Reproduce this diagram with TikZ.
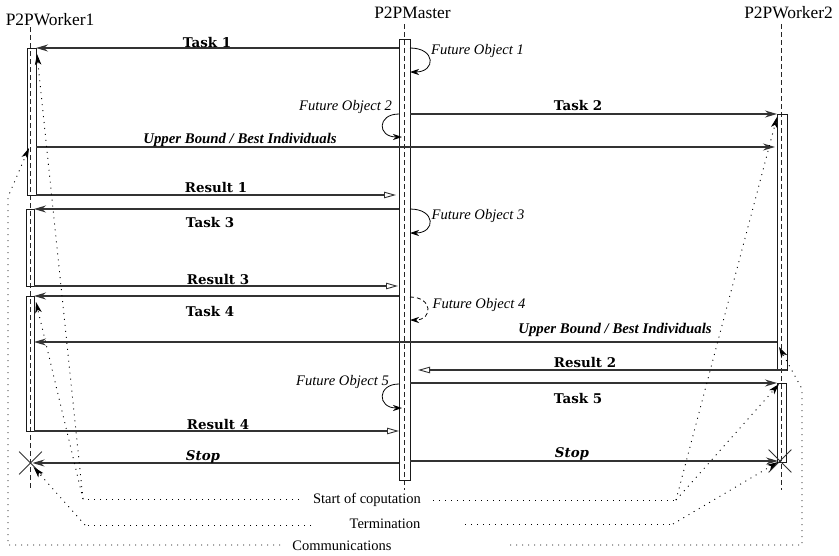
\documentclass[tikz,border=0pt]{standalone}
\usepackage{fontspec}
\setmainfont{Liberation Serif}
\newfontfamily\slabfont{DejaVu Serif}
\usetikzlibrary{arrows.meta,shapes.misc}

\tikzset{
  lifeline/.style={draw=black!85, line width=0.8pt, dash pattern=on 5pt off 3pt},
  actbox/.style={draw=black!90, line width=0.9pt, inner sep=0pt, outer sep=0pt, rectangle},
  msg/.style={draw=black!80, line width=1.2pt, -{Stealth[length=12pt,width=7pt,inset=4pt]}},
  reply/.style={draw=black!80, line width=1.2pt, -{Triangle[open,length=12pt,width=6.5pt,line width=0.9pt]}},
  selfcall/.style={draw=black, line width=0.8pt, -{Stealth[length=9pt,width=6pt,inset=3pt]}},
  note/.style={draw=black, line width=0.9pt, dash pattern=on 1pt off 5pt, -{Stealth[length=11pt,width=6.5pt,inset=3pt]}},
  plainnote/.style={draw=black, line width=0.9pt, dash pattern=on 1pt off 5pt},
  endmark/.style={draw=black!80, line width=0.8pt, cross out, minimum size=22pt, inner sep=0pt},
  lifelbl/.style={font=\fontsize{17.4}{20}\selectfont, anchor=base, inner sep=0pt},
  msglbl/.style={font=\slabfont\bfseries\fontsize{13.4}{16}\selectfont, anchor=base, inner sep=0pt},
  stoplbl/.style={font=\slabfont\bfseries\itshape\fontsize{13.4}{16}\selectfont, anchor=base, inner sep=0pt},
  ublbl/.style={font=\bfseries\itshape\fontsize{14.8}{17}\selectfont, anchor=base, inner sep=0pt},
  futlbl/.style={font=\itshape\fontsize{14.6}{17}\selectfont, anchor=base, inner sep=0pt},
  notelbl/.style={font=\fontsize{14.5}{17}\selectfont, anchor=base, inner sep=0pt}
}

\begin{document}
\begin{tikzpicture}[x=1pt,y=-1pt]
\useasboundingbox (0,0) rectangle (839,555);

% participants
\node[lifelbl] (w1lbl) at (50,25) {P2PWorker1};
\node[lifelbl] (mlbl) at (412.5,18) {P2PMaster};
\node[lifelbl] (w2lbl) at (788.5,18) {P2PWorker2};

% lifelines
\coordinate (w1top) at (30.5,27);  \coordinate (w1bot) at (30.5,490);
\coordinate (mtop)  at (404.5,24); \coordinate (mbot)  at (404.5,490);
\coordinate (w2top) at (781.5,24); \coordinate (w2bot) at (781.5,490);
\draw[lifeline] (w1top) -- (w1bot);
\draw[lifeline] (mtop) -- (mbot);
\draw[lifeline] (w2top) -- (w2bot);

% activation bars
\node[actbox, minimum width=11pt, minimum height=441pt] (mbox) at (404.5,259.5) {};
\node[actbox, minimum width=9pt, minimum height=147pt] (a1) at (31.5,121.5) {};
\node[actbox, minimum width=8pt, minimum height=77pt]  (a2) at (30,247.5) {};
\node[actbox, minimum width=8pt, minimum height=135pt] (a3) at (30,363.5) {};
\node[actbox, minimum width=10pt, minimum height=256pt] (b1) at (782,242) {};
\node[actbox, minimum width=9pt, minimum height=79pt]  (b2) at (781.5,422.5) {};

% end of the workers
\node[endmark] (x1) at (30.5,463) {};
\node[endmark] (x2) at (780,461) {};

% messages
\draw[msg]   (mbox.west |- a1.north) -- (a1.north east);
\draw[msg]   (mbox.east |- b1.north) -- (b1.north west);
\draw[msg]   (a1.east |- 0,147) -- ([xshift=-2pt]b1.west |- 0,147);
\draw[reply, shorten >=3pt] (a1.south east) -- (mbox.west |- a1.south);
\draw[msg]   (mbox.west |- a2.north) -- (a2.north east);
\draw[reply, shorten >=1pt] (a2.south east) -- (mbox.west |- a2.south);
\draw[msg]   (mbox.west |- a3.north) -- (a3.north east);
\draw[msg]   (b1.west |- 0,342) -- (a3.east |- 0,342);
\draw[reply, shorten >=8pt] (b1.south east) -- (mbox.east |- b1.south);
\draw[msg]   (mbox.east |- b2.north) -- (b2.north west);
\draw[reply] (a3.south east) -- (mbox.west |- a3.south);
\draw[msg, shorten >=2pt] (mbox.west |- x1) -- (x1.center);
\draw[msg, shorten >=2pt] (mbox.east |- x2) -- (x2.center);

% future objects created by the master
\draw[selfcall] (mbox.east |- 0,48) .. controls +(26,0) and +(26,0) .. (mbox.east |- 0,72);
\draw[selfcall] (mbox.west |- 0,114) .. controls +(-22,0) and +(-25,0) .. ([xshift=3pt]mbox.west |- 0,137);
\draw[selfcall] (mbox.east |- 0,209) .. controls +(26,0) and +(26,0) .. (mbox.east |- 0,233);
\draw[selfcall, dash pattern=on 4pt off 3pt] (mbox.east |- 0,297) .. controls +(23,0) and +(23,0) .. (mbox.east |- 0,320);
\draw[selfcall] (mbox.west |- 0,384) .. controls +(-22,0) and +(-25,0) .. ([xshift=3pt]mbox.west |- 0,408);

% message labels
\node[msglbl] (lt1) at (207,47) {Task 1};
\node[msglbl] (lt2) at (578,110.5) {Task 2};
\node[ublbl]  (lub1) at (240,143) {Upper Bound / Best Individuals};
\node[msglbl] (lr1) at (216,192) {Result 1};
\node[msglbl] (lt3) at (210,227) {Task 3};
\node[msglbl] (lr3) at (218,284) {Result 3};
\node[msglbl] (lt4) at (210,316) {Task 4};
\node[ublbl]  (lub2) at (615,333) {Upper Bound / Best Individuals};
\node[msglbl] (lr2) at (585,367) {Result 2};
\node[msglbl] (lt5) at (578,403) {Task 5};
\node[msglbl] (lr4) at (218,429) {Result 4};
\node[stoplbl] (ls1) at (203,460) {Stop};
\node[stoplbl] (ls2) at (572,457) {Stop};

\node[futlbl] (lf1) at (477.5,54) {Future Object 1};
\node[futlbl] (lf2) at (345.5,110) {Future Object 2};
\node[futlbl] (lf3) at (478,219) {Future Object 3};
\node[futlbl] (lf4) at (479,308) {Future Object 4};
\node[futlbl] (lf5) at (342.5,385) {Future Object 5};

% legend
\node[notelbl] (lsc) at (367,503) {Start of coputation};
\node[notelbl] (ltm) at (385,528) {Termination};
\node[notelbl] (lcm) at (342,550) {Communications};

% start of computation
\coordinate (scLs) at (299,499); \coordinate (scL) at (83,499);
\coordinate (scRs) at (433,500); \coordinate (scR) at (676,500);
\coordinate (scA) at (37,54);   \coordinate (scB) at (36,302);
\coordinate (scC) at (777,117); \coordinate (scD) at (779,384);
\draw[plainnote] (scLs) -- (scL);
\draw[note] (scL) -- (scA);
\draw[note] (scL) -- (scB);
\draw[plainnote] (scRs) -- (scR);
\draw[note] (scR) -- (scC);
\draw[note] (scR) -- (scD);

% termination
\coordinate (tmLs) at (311,525); \coordinate (tmL) at (85,525);
\coordinate (tmRs) at (465,524); \coordinate (tmR) at (673,524);
\draw[plainnote] (tmLs) -- (tmL);
\draw[note] (tmL) -- ([xshift=3pt,yshift=-4pt]x1.center);
\draw[plainnote] (tmRs) -- (tmR);
\draw[note] (tmR) -- ([xshift=-2pt,yshift=-1pt]x2.center);

% communications
\coordinate (cmLs) at (280,545); \coordinate (cmL1) at (8,545); \coordinate (cmL2) at (8,197);
\coordinate (cmRs) at (510,545); \coordinate (cmR1) at (802,545); \coordinate (cmR2) at (802,389);
\coordinate (cmA) at (29,148); \coordinate (cmB) at (779,347);
\draw[note] (cmLs) -- (cmL1) -- (cmL2) -- (cmA);
\draw[note] (cmRs) -- (cmR1) -- (cmR2) -- (cmB);
\end{tikzpicture}
\end{document}
